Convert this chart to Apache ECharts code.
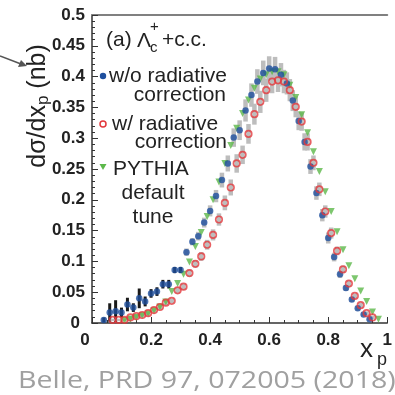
<!DOCTYPE html>
<html><head><meta charset="utf-8">
<script src="https://cdn.jsdelivr.net/npm/echarts@6/dist/echarts.min.js"></script>
<style>html,body{margin:0;padding:0;background:#fff}#c{width:395px;height:395px}</style>
</head><body><div id="c"></div>
<script>
// ---- data ----
const blueX = [0.04,0.06,0.08,0.10,0.12,0.14,0.16,0.18,0.20,0.22,0.24,0.26,0.28,0.30,0.32,0.34,0.36,0.38,0.40,0.42,0.44,0.46,0.48,0.50,0.52,0.54,0.56,0.58,0.60,0.62,0.64,0.66,0.68,0.70,0.72,0.74,0.76,0.78,0.80,0.82,0.84,0.86,0.88,0.90,0.92,0.94];
const blueY = [0.005,0.017,0.019,0.017,0.030,0.025,0.040,0.035,0.048,0.051,0.063,0.063,0.086,0.086,0.115,0.132,0.141,0.163,0.182,0.206,0.232,0.259,0.301,0.313,0.345,0.370,0.392,0.406,0.413,0.412,0.403,0.389,0.361,0.328,0.294,0.254,0.211,0.175,0.138,0.107,0.079,0.057,0.038,0.024,0.014,0.006];
const blueErr = [0.004,0.015,0.018,0.008,0.011,0.007,0.016,0.008,0.007,0.007,0.007,0.007,0.005,0.005,0.006,0.006,0.007,0.008,0.009,0.010,0.012,0.013,0.015,0.016,0.018,0.019,0.020,0.020,0.020,0.020,0.019,0.018,0.017,0.015,0.014,0.012,0.011,0.010,0.009,0.007,0.006,0.005,0.004,0.004,0.003,0.003];

const redX = [0.07,0.09,0.11,0.13,0.15,0.17,0.19,0.21,0.23,0.25,0.27,0.29,0.31,0.33,0.35,0.37,0.39,0.41,0.43,0.45,0.47,0.49,0.51,0.53,0.55,0.57,0.59,0.61,0.63,0.65,0.67,0.69,0.71,0.73,0.75,0.77,0.79,0.81,0.83,0.85,0.87,0.89,0.91,0.93,0.95];
const redY = [0.005,0.005,0.005,0.009,0.011,0.013,0.016,0.021,0.026,0.033,0.036,0.053,0.059,0.081,0.096,0.108,0.127,0.143,0.168,0.195,0.220,0.259,0.273,0.307,0.339,0.359,0.378,0.392,0.394,0.392,0.378,0.351,0.327,0.294,0.260,0.217,0.181,0.146,0.117,0.087,0.064,0.044,0.029,0.016,0.009];
const redErr = [0.002,0.002,0.002,0.003,0.003,0.003,0.003,0.003,0.004,0.004,0.004,0.005,0.005,0.006,0.006,0.007,0.008,0.009,0.010,0.012,0.013,0.015,0.015,0.016,0.017,0.018,0.019,0.019,0.019,0.019,0.018,0.017,0.015,0.014,0.012,0.011,0.010,0.009,0.007,0.006,0.005,0.004,0.004,0.003,0.003];

const greenX = [0.11,0.13,0.15,0.17,0.19,0.21,0.23,0.25,0.27,0.29,0.31,0.33,0.35,0.37,0.39,0.41,0.43,0.45,0.47,0.49,0.51,0.53,0.55,0.57,0.59,0.61,0.63,0.65,0.67,0.69,0.71,0.73,0.75,0.77,0.79,0.81,0.83,0.85,0.87,0.89,0.91,0.93,0.95,0.97];
const greenY = [0.004,0.006,0.009,0.012,0.015,0.020,0.026,0.034,0.051,0.064,0.079,0.099,0.124,0.147,0.173,0.200,0.229,0.259,0.288,0.316,0.340,0.362,0.381,0.396,0.403,0.408,0.408,0.403,0.386,0.366,0.338,0.309,0.278,0.246,0.213,0.181,0.148,0.119,0.093,0.072,0.052,0.035,0.018,0.006];

const xTickLabels = ['0','0.2','0.4','0.6','0.8','1'];
const legendTexts = [['w/o radiative','correction'],['w/ radiative','correction'],['PYTHIA','default','tune']];
const caption = 'Belle, PRD 97, 072005 (2018)';

// ---- chart ----
const chart = echarts.init(document.getElementById('c'), null, {renderer:'canvas'});
const FONT = '"Liberation Sans", Arial, Helvetica, sans-serif';
const INK = '#222';

function errSeries(xs, ys, es, lowBlack) {
  return {
    type:'custom', silent:true, z:1,
    data: xs.map((x,i)=>[x, ys[i], es[i]]),
    encode:{x:0,y:1},
    renderItem:(params, api)=>{
      const x=api.value(0), y=api.value(1), e=api.value(2);
      const p1=api.coord([x,y+e]), p2=api.coord([x,y-e]);
      const dark = lowBlack && x < 0.31;
      const w = dark ? 3 : 4.5;
      return {type:'rect', shape:{x:p1[0]-w/2, y:p1[1], width:w, height:Math.max(1,p2[1]-p1[1])},
        style:{fill: dark ? '#1a1a1a' : '#bdbdbd'}};
    }
  };
}

const option = {
  animation:false,
  backgroundColor:'#fff',
  grid:{left:92, top:15, right:2, bottom:72, containLabel:false},
  xAxis:[{
    type:'value', min:0, max:1, interval:0.2,
    axisLine:{show:true, lineStyle:{color:'#333', width:1.5}},
    axisTick:{show:true, inside:true, length:6, lineStyle:{color:'#333', width:1}},
    minorTick:{show:true, splitNumber:4, length:3, lineStyle:{color:'#333', width:1}},
    splitLine:{show:false},
    axisLabel:{margin:9, color:INK, fontFamily:FONT, fontWeight:'bold', fontSize:17,
      formatter:(v)=>{ const s = xTickLabels[Math.round(v/0.2)]; return v===0 ? '{z|'+s+'}' : s; },
      rich:{z:{fontFamily:FONT, fontWeight:'bold', fontSize:17, color:INK, padding:[0,14,0,0]}}}
  },{
    type:'value', min:0, max:1, position:'top',
    axisLine:{show:true, onZero:false, lineStyle:{color:'#808080', width:2}},
    axisTick:{show:false}, axisLabel:{show:false}, splitLine:{show:false}
  }],
  yAxis:{
    type:'value', min:0, max:0.5, interval:0.05,
    axisLine:{show:true, lineStyle:{color:'#333', width:1.5}},
    axisTick:{show:true, inside:true, length:6, lineStyle:{color:'#333', width:1}},
    minorTick:{show:true, splitNumber:5, length:3, lineStyle:{color:'#333', width:1}},
    splitLine:{show:false},
    axisLabel:{margin:7, color:INK, fontFamily:FONT, fontWeight:'bold', fontSize:17,
      formatter:(v)=> v===0 ? '{z|0}' : String(+v.toFixed(2)),
      rich:{z:{fontFamily:FONT, fontWeight:'bold', fontSize:17, color:INK, padding:[0,5,0,0]}}}
  },
  series:[
    errSeries(blueX, blueY, blueErr, true),
    errSeries(redX, redY, redErr, false),
    {type:'scatter', name:'PYTHIA', data:greenX.map((x,i)=>[x,greenY[i]]), symbol:'triangle', symbolRotate:180, symbolSize:7,
      itemStyle:{color:'#5cb84a'}, z:2},
    {type:'scatter', name:'w/o', data:blueX.map((x,i)=>[x,blueY[i]]), symbol:'circle', symbolSize:6.5,
      itemStyle:{color:'#1e4f9e'}, z:3},
    {type:'scatter', name:'w/', data:redX.map((x,i)=>[x,redY[i]]), symbol:'circle', symbolSize:6.5,
      itemStyle:{color:'rgba(255,255,255,0)', borderColor:'#e2383c', borderWidth:1.7}, z:4}
  ],
  graphic:[
    // arrow at top-left
    {type:'line', shape:{x1:0, y1:56, x2:21, y2:64}, style:{stroke:'#555', lineWidth:1.5}},
    {type:'polygon', shape:{points:[[27,66],[18,67],[21,60]]}, style:{fill:'#555'}},
    // y-axis name
    {type:'text', x:38, y:106, rotation:Math.PI/2,
      style:{text:'{a|dσ/dx}{s|p}{a| (nb)}', align:'center', verticalAlign:'middle',
        rich:{a:{fontFamily:FONT, fontSize:25, fill:INK, color:INK},
              s:{fontFamily:FONT, fontSize:17, fill:INK, color:INK, padding:[10,0,0,0]}}}},
    // x-axis name
    {type:'text', x:360, y:350, style:{text:'x', font:'26px '+FONT, fill:INK, verticalAlign:'middle'}},
    {type:'text', x:377, y:360, style:{text:'p', font:'18px '+FONT, fill:INK, verticalAlign:'middle'}},
    // panel label
    {type:'text', x:106, y:40, style:{text:'(a)', font:'21px '+FONT, fill:INK, verticalAlign:'middle'}},
    {type:'text', x:137, y:41, style:{text:'Λ', font:'21px '+FONT, fill:INK, verticalAlign:'middle'}},
    {type:'text', x:150, y:27, style:{text:'+', font:'15px '+FONT, fill:INK, verticalAlign:'middle'}},
    {type:'text', x:150, y:48, style:{text:'c', font:'15px '+FONT, fill:INK, verticalAlign:'middle'}},
    {type:'text', x:162, y:40, style:{text:'+c.c.', font:'21px '+FONT, fill:INK, verticalAlign:'middle'}},
    // legend markers
    {type:'circle', shape:{cx:103, cy:76, r:3.2}, style:{fill:'#1e4f9e'}},
    {type:'circle', shape:{cx:103, cy:124, r:3}, style:{fill:'none', stroke:'#e2383c', lineWidth:1.5}},
    {type:'polygon', shape:{points:[[99.5,164],[106.5,164],[103,170]]}, style:{fill:'#5cb84a'}},
    // legend text
    {type:'text', x:109, y:76, style:{text:legendTexts[0][0], font:'21px '+FONT, fill:INK, verticalAlign:'middle'}},
    {type:'text', x:226, y:95, style:{text:legendTexts[0][1], font:'21px '+FONT, fill:INK, verticalAlign:'middle', align:'right'}},
    {type:'text', x:112, y:124, style:{text:legendTexts[1][0], font:'21px '+FONT, fill:INK, verticalAlign:'middle'}},
    {type:'text', x:227, y:142, style:{text:legendTexts[1][1], font:'21px '+FONT, fill:INK, verticalAlign:'middle', align:'right'}},
    {type:'text', x:113, y:169, style:{text:legendTexts[2][0], font:'21px '+FONT, fill:INK, verticalAlign:'middle'}},
    {type:'text', x:153, y:193, style:{text:legendTexts[2][1], font:'21px '+FONT, fill:INK, verticalAlign:'middle', align:'center'}},
    {type:'text', x:153, y:217, style:{text:legendTexts[2][2], font:'21px '+FONT, fill:INK, verticalAlign:'middle', align:'center'}},
    // caption
    {type:'text', x:18, y:381, scaleX:1.19, style:{text:caption, font:'24px "Open Sans", Lato, sans-serif', fill:'#a0a0a0', verticalAlign:'middle'}}
  ]
};
chart.setOption(option);
</script>
</body></html>
